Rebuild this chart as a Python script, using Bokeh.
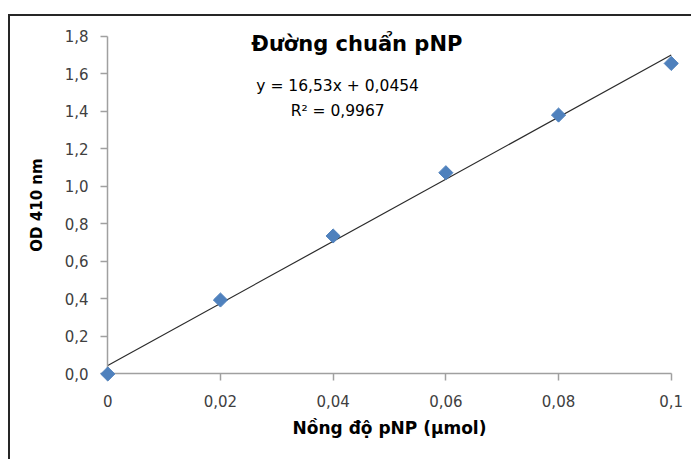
from bokeh.plotting import figure
from bokeh.models import Label, Range1d, CustomJSTickFormatter, FixedTicker, LinearAxis
from bokeh.embed import file_html
from bokeh.resources import INLINE
import math

# ---- data ----
conc = [0.0, 0.02, 0.04, 0.06, 0.08, 0.1]
od = [0.0, 0.394, 0.735, 1.072, 1.379, 1.654]
slope = 16.53
intercept = 0.0454
x_ticks = [0, 0.02, 0.04, 0.06, 0.08, 0.1]
y_ticks = [0.0, 0.2, 0.4, 0.6, 0.8, 1.0, 1.2, 1.4, 1.6, 1.8]
title_text = "Đường chuẩn pNP"
eq_text = "y = 16,53x + 0,0454"
r2_text = "R² = 0,9967"
x_label = "Nồng độ pNP (µmol)"
y_label = "OD 410 nm"

p = figure(width=681, height=443, output_backend="svg", toolbar_location=None,
           x_range=Range1d(-0.002, 0.102), y_range=Range1d(-0.04, 1.84),
           min_border_left=86, min_border_right=9, min_border_top=12, min_border_bottom=78,
           margin=(16, 0, 0, 10))
p.styles = {"outline": "2px solid #262626"}

p.outline_line_color = None
p.xgrid.visible = False
p.ygrid.visible = False
p.background_fill_color = "white"
p.border_fill_color = "white"

xfmt = CustomJSTickFormatter(code="return String(Math.round(tick*100)/100).replace('.', ',');")
yfmt = CustomJSTickFormatter(code="return tick.toFixed(1).replace('.', ',');")

# label axes (default axes, in side panels): labels only
for ax in (p.xaxis[0], p.yaxis[0]):
    ax.axis_line_color = None
    ax.major_tick_line_color = None
    ax.minor_tick_line_color = None
    ax.major_tick_out = 0
    ax.major_tick_in = 0
    ax.major_label_text_font = "DejaVu Sans"
    ax.major_label_text_font_size = "15px"
    ax.major_label_text_color = "#404040"
    ax.axis_label_text_font = "DejaVu Sans"
    ax.axis_label_text_font_style = "bold"
    ax.axis_label_text_color = "#000000"

p.xaxis.ticker = FixedTicker(ticks=x_ticks)
p.yaxis.ticker = FixedTicker(ticks=y_ticks)
p.xaxis.formatter = xfmt
p.yaxis.formatter = yfmt
p.xaxis.major_label_standoff = 13
p.yaxis.major_label_standoff = 8
p.xaxis.axis_label = x_label
p.yaxis.axis_label = y_label
p.xaxis.axis_label_text_font_size = "17px"
p.yaxis.axis_label_text_font_size = "15px"
p.xaxis.axis_label_standoff = 8
p.yaxis.axis_label_standoff = 16

# line axes: drawn at x=0 / y=0 with ticks, no labels
def line_axis(ticks, bounds):
    a = LinearAxis(ticker=FixedTicker(ticks=ticks), bounds=bounds, fixed_location=0)
    a.axis_line_color = "#a0a0a0"
    a.axis_line_width = 1.5
    a.major_tick_line_color = "#a0a0a0"
    a.major_tick_line_width = 1.5
    a.major_tick_out = 7
    a.major_tick_in = 0
    a.minor_tick_line_color = None
    a.major_label_text_color = None
    a.major_label_standoff = 0
    return a

p.add_layout(line_axis(x_ticks, (0, 0.1)), "below")
p.add_layout(line_axis(y_ticks, (0, 1.8)), "left")

# trendline
p.line([conc[0], conc[-1]], [intercept + slope * conc[0], intercept + slope * conc[-1]],
       line_color="#2b2b2b", line_width=1.2)

# points
pts = p.scatter(conc, od, marker="square", angle=math.pi / 4, size=10,
                fill_color="#4F81BD", line_color="#4F81BD")
pts.level = "overlay"

# title and equation
p.add_layout(Label(x=0.0442, y=1.757, text=title_text, text_align="center", text_baseline="middle",
                   text_font="DejaVu Sans", text_font_style="bold", text_font_size="21px",
                   text_color="#000000"))
p.add_layout(Label(x=0.0408, y=1.535, text=eq_text, text_align="center", text_baseline="middle",
                   text_font="DejaVu Sans", text_font_size="15.5px", text_color="#000000"))
p.add_layout(Label(x=0.0408, y=1.400, text=r2_text, text_align="center", text_baseline="middle",
                   text_font="DejaVu Sans", text_font_size="15.5px", text_color="#000000"))

open("out.html", "w").write(file_html(p, INLINE))
